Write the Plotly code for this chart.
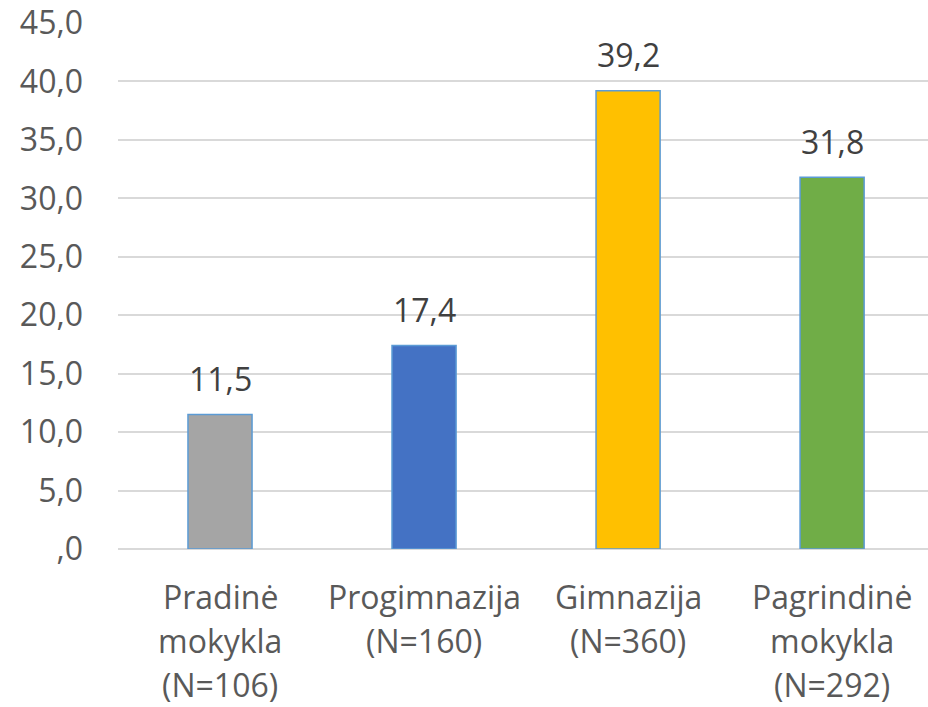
import plotly.graph_objects as go

categories = ["Pradinė<br>mokykla<br>(N=106)", "Progimnazija<br>(N=160)", "Gimnazija<br>(N=360)", "Pagrindinė<br>mokykla<br>(N=292)"]
values = [11.5, 17.4, 39.2, 31.8]
colors = ["#A5A5A5", "#4472C4", "#FFC000", "#70AD47"]
value_labels = ["11,5", "17,4", "39,2", "31,8"]
tick_vals = [0, 5, 10, 15, 20, 25, 30, 35, 40, 45]
tick_text = [",0", "5,0", "10,0", "15,0", "20,0", "25,0", "30,0", "35,0", "40,0", "45,0"]

FONT = "Open Sans"
FS = 32
xs = list(range(len(categories)))

fig = go.Figure()
fig.add_trace(go.Bar(
    x=xs, y=values, width=0.314,
    marker=dict(color=colors, line=dict(color="#5B9BD5", width=1.5)),
    hoverinfo="skip",
))

annotations = []
for i, (v, t) in enumerate(zip(values, value_labels)):
    annotations.append(dict(x=i, y=v, xref="x", yref="y", text=t, showarrow=False,
                            yanchor="middle", yshift=36,
                            font=dict(family=FONT, size=FS, color="#404040")))
for i, cat in enumerate(categories):
    for j, line in enumerate(cat.split("<br>")):
        annotations.append(dict(x=i, y=0, xref="x", yref="y", text=line, showarrow=False,
                                yanchor="middle", yshift=-47 - 44 * j, borderpad=0,
                                font=dict(family=FONT, size=FS, color="#595959")))

fig.update_layout(
    width=928, height=707,
    margin=dict(l=118, r=0, t=23, b=158),
    paper_bgcolor="white", plot_bgcolor="white",
    showlegend=False,
    annotations=annotations,
    xaxis=dict(range=[-0.5, 3.47], showticklabels=False, showgrid=False, zeroline=False,
               showline=False, ticks=""),
    yaxis=dict(range=[0, 45], tickvals=tick_vals, ticktext=tick_text,
               showgrid=True, gridcolor="#D9D9D9", gridwidth=1.5,
               zeroline=True, zerolinecolor="#D9D9D9", zerolinewidth=1.5,
               showline=False, ticks="", ticklabelstandoff=34,
               tickfont=dict(family=FONT, size=FS, color="#595959")),
)

fig.write_html("out.html", config={"displayModeBar": False},
               post_script="document.body.style.margin='0';document.body.style.overflow='hidden';")
